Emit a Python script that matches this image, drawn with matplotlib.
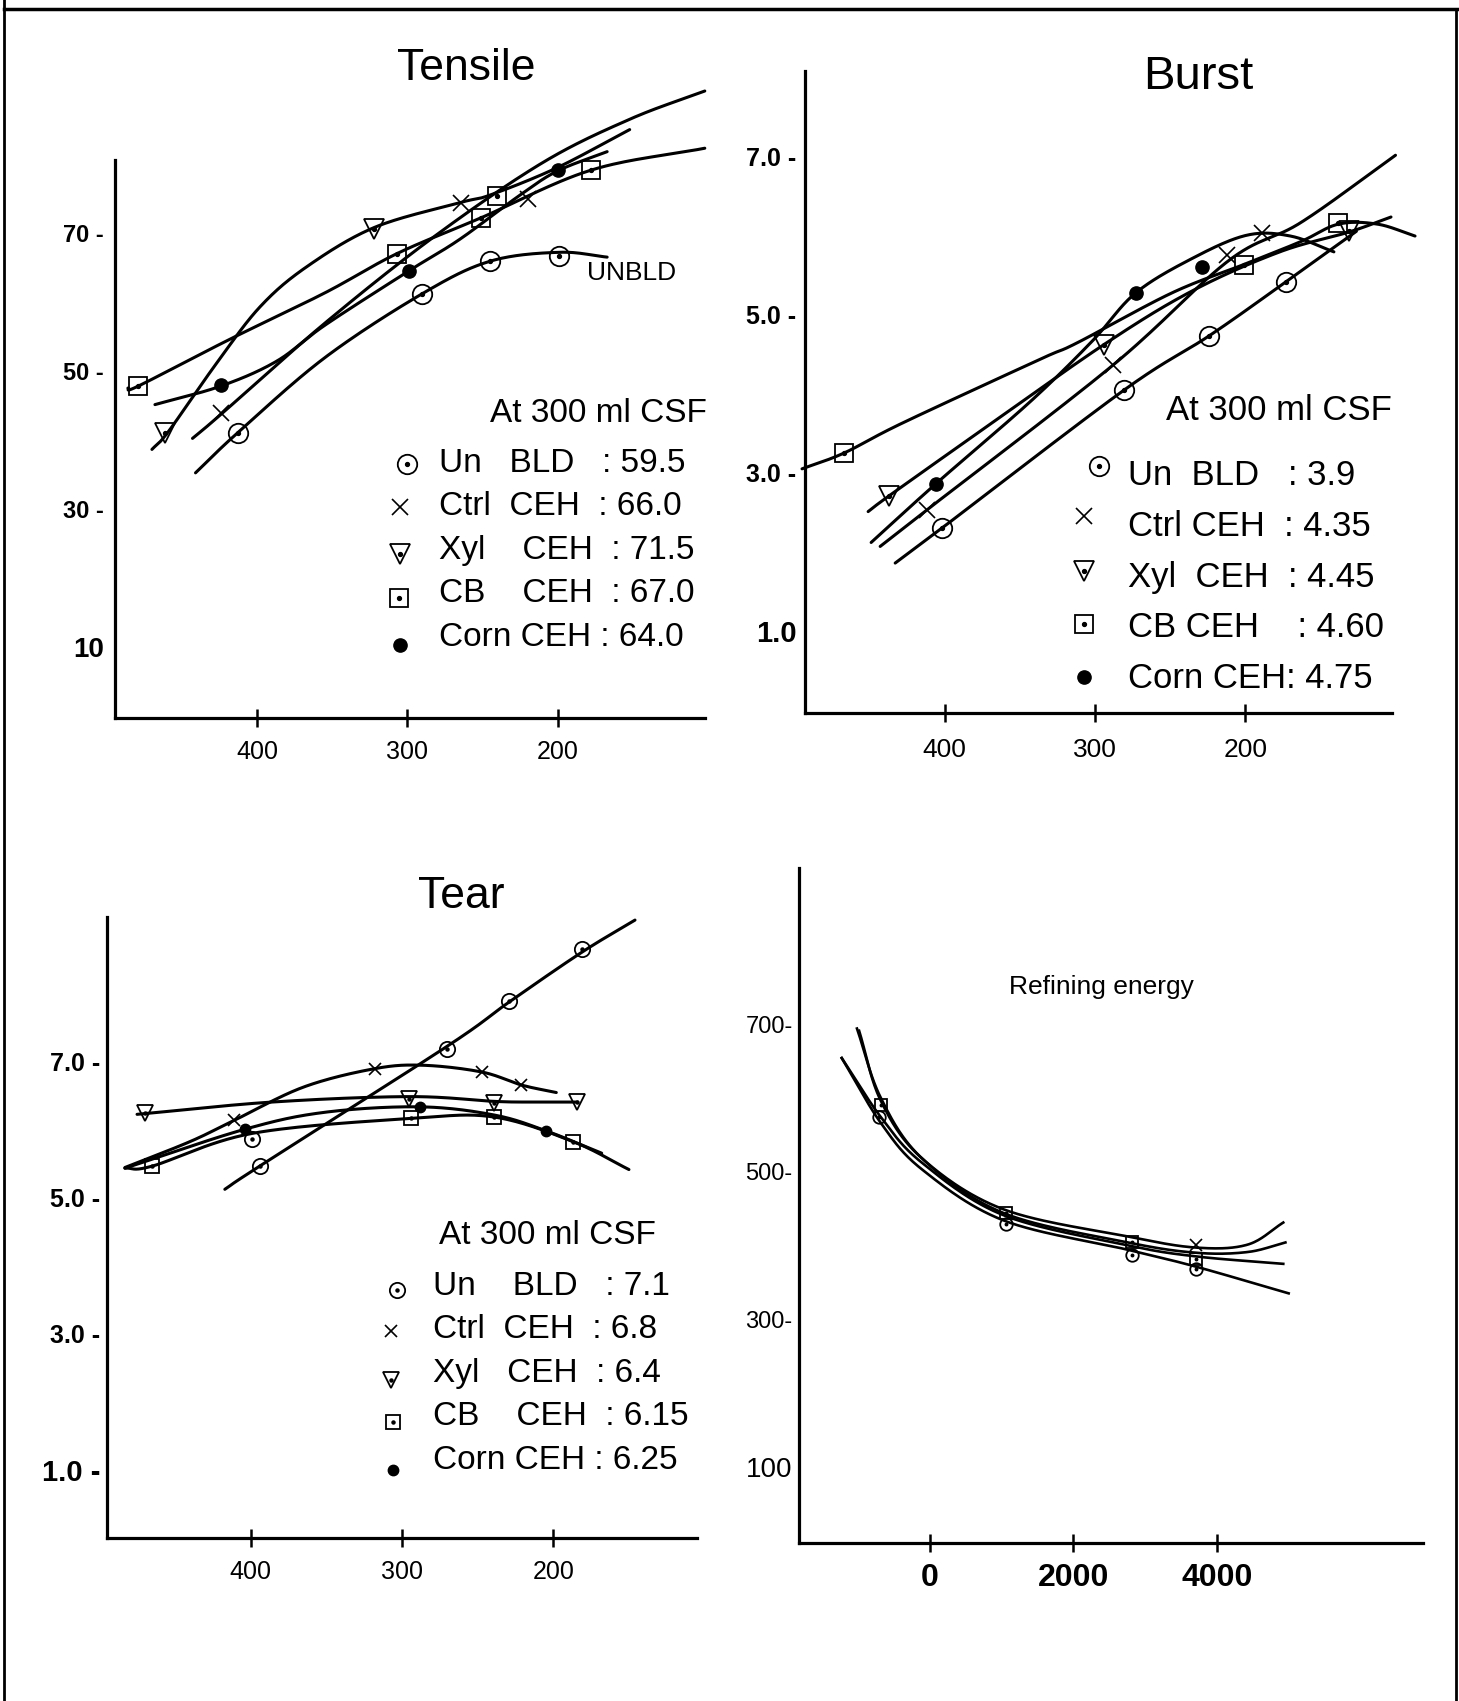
import numpy as np
import matplotlib
matplotlib.use('Agg')
import matplotlib.pyplot as plt

plt.rcParams['font.family'] = ['Liberation Sans', 'DejaVu Sans']

# layout grid in pixels of the (shrunk) reference, used only for placing axes/text
W, H = 1345, 1568

KINDS = ['un', 'ctrl', 'xyl', 'cb', 'corn']

# ---------------- Tensile (x = CSF ml, y = tensile index) ----------------
t_un_x = [413, 290, 245, 199]
t_un_y = [41.0, 61.2, 65.9, 66.7]
t_un_cx = [441, 413, 355, 290, 245, 199, 167]
t_un_cy = [35.2, 41.0, 51.9, 61.2, 65.9, 67.2, 66.5]

t_ctrl_x = [424, 264, 220]
t_ctrl_y = [43.9, 74.3, 75.0]
t_ctrl_cx = [443, 424, 355, 282, 210, 152, 102]
t_ctrl_cy = [40.2, 43.7, 56.9, 69.5, 80.2, 86.5, 90.6]

t_xyl_x = [461, 322]
t_xyl_y = [41.0, 70.6]
t_xyl_cx = [470, 459, 427, 398, 367, 322, 265, 245, 201, 152]
t_xyl_cy = [38.6, 41.2, 51.1, 59.3, 65.1, 70.8, 74.4, 75.5, 79.4, 85.0]

t_cb_x = [479, 307, 251, 240, 178]
t_cb_y = [47.8, 67.0, 72.2, 75.4, 79.1]
t_cb_cx = [486, 479, 418, 355, 307, 251, 178, 102]
t_cb_cy = [47.5, 47.8, 54.6, 61.3, 67.0, 72.2, 79.1, 82.3]

t_corn_x = [424, 299, 200]
t_corn_y = [48.0, 64.5, 79.1]
t_corn_cx = [468, 424, 387, 355, 299, 265, 225, 200, 167]
t_corn_cy = [45.1, 47.8, 51.4, 56.6, 64.5, 69.1, 75.5, 79.0, 81.8]

tensile_labels = ['Un   BLD   ', 'Ctrl  CEH  ', 'Xyl    CEH  ', 'CB    CEH  ', 'Corn CEH ']
tensile_at300 = ['59.5', '66.0', '71.5', '67.0', '64.0']
tensile_yticks = [10, 30, 50, 70]
tensile_yticklabels = ['10', '30 -', '50 -', '70 -']

# ---------------- Burst ----------------
b_un_x = [402, 281, 224, 173]
b_un_y = [2.30, 4.04, 4.73, 5.41]
b_un_cx = [433, 402, 281, 224, 173, 126]
b_un_cy = [1.86, 2.30, 4.04, 4.73, 5.41, 6.05]

b_ctrl_x = [412, 288, 212, 189]
b_ctrl_y = [2.53, 4.36, 5.75, 6.03]
b_ctrl_cx = [443, 412, 288, 211, 163, 100]
b_ctrl_cy = [2.07, 2.53, 4.36, 5.68, 6.16, 7.01]

b_xyl_x = [437, 294, 131]
b_xyl_y = [2.71, 4.62, 6.05]
b_xyl_cx = [451, 437, 379, 294, 235, 177, 131, 103]
b_xyl_cy = [2.51, 2.71, 3.49, 4.62, 5.30, 5.79, 6.04, 6.23]

b_cb_x = [467, 201, 138]
b_cb_y = [3.25, 5.63, 6.16]
b_cb_cx = [495, 467, 428, 337, 312, 249, 201, 163, 138, 112, 87]
b_cb_cy = [3.05, 3.25, 3.63, 4.43, 4.64, 5.27, 5.63, 5.92, 6.14, 6.14, 5.99]

b_corn_x = [406, 273, 229]
b_corn_y = [2.86, 5.27, 5.60]
b_corn_cx = [449, 406, 343, 302, 273, 235, 199, 170, 141]
b_corn_cy = [2.12, 2.86, 3.90, 4.66, 5.27, 5.71, 6.00, 5.99, 5.79]

burst_labels = ['Un  BLD   ', 'Ctrl CEH  ', 'Xyl  CEH  ', 'CB CEH    ', 'Corn CEH']
burst_at300 = ['3.9', '4.35', '4.45', '4.60', '4.75']
burst_yticks = [1.0, 3.0, 5.0, 7.0]
burst_yticklabels = ['1.0', '3.0 -', '5.0 -', '7.0 -']

# ---------------- Tear ----------------
r_un_x = [394, 399, 270, 229, 181]
r_un_y = [5.46, 5.86, 7.18, 7.89, 8.64]
r_un_cx = [417, 394, 270, 229, 181, 146]
r_un_cy = [5.12, 5.46, 7.22, 7.87, 8.60, 9.07]

r_ctrl_x = [411, 318, 247, 221]
r_ctrl_y = [6.13, 6.89, 6.84, 6.65]
r_ctrl_cx = [483, 440, 411, 365, 318, 286, 247, 221, 198]
r_ctrl_cy = [5.44, 5.82, 6.13, 6.62, 6.89, 6.94, 6.84, 6.65, 6.54]

r_xyl_x = [470, 295, 239, 184]
r_xyl_y = [6.24, 6.45, 6.38, 6.40]
r_xyl_cx = [475, 386, 295, 239, 214, 184]
r_xyl_cy = [6.22, 6.40, 6.48, 6.41, 6.40, 6.40]

r_cb_x = [465, 294, 239, 187]
r_cb_y = [5.46, 6.16, 6.18, 5.82]
r_cb_cx = [483, 465, 399, 294, 239, 187, 150]
r_cb_cy = [5.43, 5.46, 5.94, 6.16, 6.18, 5.82, 5.41]

r_corn_x = [404, 288, 205]
r_corn_y = [6.00, 6.33, 5.98]
r_corn_cx = [483, 404, 351, 288, 239, 205, 168]
r_corn_cy = [5.43, 6.00, 6.25, 6.33, 6.21, 5.98, 5.65]

tear_labels = ['Un    BLD   ', 'Ctrl  CEH  ', 'Xyl   CEH  ', 'CB    CEH  ', 'Corn CEH ']
tear_at300 = ['7.1', '6.8', '6.4', '6.15', '6.25']
tear_yticks = [1.0, 3.0, 5.0, 7.0]
tear_yticklabels = ['1.0 -', '3.0 -', '5.0 -', '7.0 -']

# ---------------- Refining energy ----------------
e1_x = [-981, -679, -106, 1026, 2762, 3713, 4423, 4921]
e1_y = [691, 596, 518, 449, 412, 397, 401, 431]
e2_x = [-1011, -679, -106, 1026, 2762, 3713, 4423, 4951]
e2_y = [694, 600, 518, 444, 404, 390, 391, 404]
e3_x = [-1223, -679, -106, 1026, 2762, 3713, 4921]
e3_y = [654, 574, 512, 441, 400, 385, 375]
e4_x = [-1223, -679, -106, 1026, 2762, 3713, 4996]
e4_y = [654, 566, 503, 434, 394, 371, 335]
e_sq_x = [-679, 1057, 2823, 3713]
e_sq_y = [591, 444, 404, 382]
e_ci_x = [-709, 1057, 2823, 3713]
e_ci_y = [574, 429, 387, 368]
e_x_x = [3713]
e_x_y = [401]
energy_yticks = [100, 300, 500, 700]
energy_yticklabels = ['100', '300-', '500-', '700-']
energy_xticks = [0, 2000, 4000]


def smooth(xs, ys, n=30):
    pts = np.column_stack([xs, ys]).astype(float)
    p = np.vstack([2 * pts[0] - pts[1], pts, 2 * pts[-1] - pts[-2]])
    t = np.linspace(0, 1, n, endpoint=False)[:, None]
    out = []
    for i in range(1, len(p) - 2):
        p0, p1, p2, p3 = p[i - 1], p[i], p[i + 1], p[i + 2]
        out.append(0.5 * (2 * p1 + (-p0 + p2) * t
                          + (2 * p0 - 5 * p1 + 4 * p2 - p3) * t ** 2
                          + (-p0 + 3 * p1 - 3 * p2 + p3) * t ** 3))
    out.append(pts[-1:])
    c = np.vstack(out)
    return c[:, 0], c[:, 1]


def draw_marker(ax, x, y, kind, ms):
    if kind == 'corn':
        ax.plot(x, y, ls='none', marker='o', ms=ms * 0.68, mfc='k', mec='k', zorder=4, clip_on=False)
    elif kind == 'ctrl':
        ax.plot(x, y, ls='none', marker='x', ms=ms * 0.85, mec='k', mew=1.2, zorder=4, clip_on=False)
    else:
        m = {'un': 'o', 'xyl': 'v', 'cb': 's'}[kind]
        s = ms * 0.9 if kind == 'cb' else ms
        ax.plot(x, y, ls='none', marker=m, ms=s, mfc='none', mec='k', mew=1.3, zorder=4, clip_on=False)
        ax.plot(x, y, ls='none', marker='o', ms=ms * 0.2, mfc='k', mec='k', zorder=5, clip_on=False)


def make_axes(fig, l, r, t, b, xlim, ylim):
    ax = fig.add_axes([l / W, 1 - b / H, (r - l) / W, (b - t) / H])
    ax.set_xlim(*xlim)
    ax.set_ylim(*ylim)
    ax.set_facecolor('none')
    for s in ['top', 'right']:
        ax.spines[s].set_visible(False)
    for s in ['left', 'bottom']:
        ax.spines[s].set_linewidth(2.3)
    ax.tick_params(axis='y', length=0)
    ax.tick_params(axis='x', direction='inout', length=13, width=1.8)
    return ax


def set_yticks(ax, ticks, labels, fs, first_fs, pad, weight='bold'):
    ax.set_yticks(ticks, labels=labels, fontsize=fs, fontweight=weight)
    ax.get_yticklabels()[0].set_fontsize(first_fs)
    ax.tick_params(axis='y', pad=pad)


def draw_series(ax, curves, markers, ms, lw=2.2):
    for cx, cy in curves:
        sx, sy = smooth(cx, cy)
        ax.plot(sx, sy, color='k', lw=lw, solid_capstyle='round', zorder=3, clip_on=False)
    for (mx, my), kind in zip(markers, KINDS):
        draw_marker(ax, mx, my, kind, ms)


def draw_legend(ov, header_xy, text_x, rows_y, marker_xy, labels, values, fs, ms):
    ov.text(header_xy[0], header_xy[1], 'At 300 ml CSF', ha='right', va='center', fontsize=fs)
    for lab, val, y, (mx, my), kind in zip(labels, values, rows_y, marker_xy, KINDS):
        ov.text(text_x, y, lab + ': ' + val, ha='left', va='center', fontsize=fs)
        draw_marker(ov, [mx], [my], kind, ms)


def main():
    fig = plt.figure(figsize=(14.59, 17.01), dpi=100)

    # Tensile
    ax = make_axes(fig, 106, 650, 75, 662, (494.6, 101.8), (-0.39, 92.0))
    ax.spines['left'].set_bounds(-0.39, 80.6)
    draw_series(ax,
                [(t_un_cx, t_un_cy), (t_ctrl_cx, t_ctrl_cy), (t_xyl_cx, t_xyl_cy),
                 (t_cb_cx, t_cb_cy), (t_corn_cx, t_corn_cy)],
                [(t_un_x, t_un_y), (t_ctrl_x, t_ctrl_y), (t_xyl_x, t_xyl_y),
                 (t_cb_x, t_cb_y), (t_corn_x, t_corn_y)], ms=14)
    set_yticks(ax, tensile_yticks, tensile_yticklabels, 17, 20, 8)
    ax.set_xticks([400, 300, 200], labels=['400', '300', '200'], fontsize=18)
    ax.tick_params(axis='x', pad=9)

    # Burst
    ax = make_axes(fig, 742, 1310, 65, 657, (493.1, 83.0), (-0.03, 8.08))
    ax.spines['bottom'].set_bounds(493.1, 102.5)
    draw_series(ax,
                [(b_un_cx, b_un_cy), (b_ctrl_cx, b_ctrl_cy), (b_xyl_cx, b_xyl_cy),
                 (b_cb_cx, b_cb_cy), (b_corn_cx, b_corn_cy)],
                [(b_un_x, b_un_y), (b_ctrl_x, b_ctrl_y), (b_xyl_x, b_xyl_y),
                 (b_cb_x, b_cb_y), (b_corn_x, b_corn_y)], ms=14)
    set_yticks(ax, burst_yticks, burst_yticklabels, 18, 21, 6)
    ax.set_xticks([400, 300, 200], labels=['400', '300', '200'], fontsize=19)
    ax.tick_params(axis='x', pad=12)

    # Tear
    ax = make_axes(fig, 99, 643, 845, 1418, (494.6, 104.7), (0.0, 9.12))
    draw_series(ax,
                [(r_un_cx, r_un_cy), (r_ctrl_cx, r_ctrl_cy), (r_xyl_cx, r_xyl_cy),
                 (r_cb_cx, r_cb_cy), (r_corn_cx, r_corn_cy)],
                [(r_un_x, r_un_y), (r_ctrl_x, r_ctrl_y), (r_xyl_x, r_xyl_y),
                 (r_cb_x, r_cb_y), (r_corn_x, r_corn_y)], ms=11)
    set_yticks(ax, tear_yticks, tear_yticklabels, 18, 21, 5)
    ax.set_xticks([400, 300, 200], labels=['400', '300', '200'], fontsize=18)
    ax.tick_params(axis='x', pad=9)

    # Refining energy
    ax = make_axes(fig, 737, 1312, 800, 1422, (-1811, 6868), (-2.9, 911.8))
    for ex, ey in [(e1_x, e1_y), (e2_x, e2_y), (e3_x, e3_y), (e4_x, e4_y)]:
        sx, sy = smooth(ex, ey)
        ax.plot(sx, sy, color='k', lw=1.9, zorder=3)
    draw_marker(ax, e_sq_x, e_sq_y, 'cb', 9)
    draw_marker(ax, e_ci_x, e_ci_y, 'un', 9)
    draw_marker(ax, e_x_x, e_x_y, 'ctrl', 11)
    set_yticks(ax, energy_yticks, energy_yticklabels, 17, 20, 5, weight='normal')
    ax.set_xticks(energy_xticks, labels=[str(v) for v in energy_xticks], fontsize=23, fontweight='bold')
    ax.tick_params(axis='x', pad=8)

    # overlay in layout pixels for titles, legends and frame
    ov = fig.add_axes([0, 0, 1, 1])
    ov.set_xlim(0, W)
    ov.set_ylim(H, 0)
    ov.axis('off')

    ov.text(430, 63, 'Tensile', ha='center', va='center', fontsize=32)
    ov.text(1105, 71, 'Burst', ha='center', va='center', fontsize=34)
    ov.text(425, 826, 'Tear', ha='center', va='center', fontsize=32)
    ov.text(1015, 910, 'Refining energy', ha='center', va='center', fontsize=19)
    ov.text(582, 252, 'UNBLD', ha='center', va='center', fontsize=19)

    draw_legend(ov, (652, 381), 405, [427, 467, 507, 547, 588],
                [(375, 428), (369, 467), (369, 511), (368, 551), (369, 595)],
                tensile_labels, tensile_at300, fs=24, ms=14)
    draw_legend(ov, (1283, 378), 1040, [438, 485, 532, 578, 625],
                [(1013, 430), (999, 476), (999, 526), (999, 575), (999, 624)],
                burst_labels, burst_at300, fs=25, ms=14)
    draw_legend(ov, (605, 1139), 399, [1186, 1226, 1266, 1306, 1346],
                [(366, 1189), (360, 1227), (360, 1272), (362, 1311), (362, 1355)],
                tear_labels, tear_at300, fs=24, ms=11)

    # scanned page frame
    ov.plot([4, 4], [0, H], color='k', lw=2)
    ov.plot([4, 1343], [8, 8], color='k', lw=2.5)
    ov.plot([1342, 1342], [8, H], color='k', lw=2)

    fig.savefig('out.png', dpi=100, facecolor='white')


if __name__ == "__main__":
    main()
